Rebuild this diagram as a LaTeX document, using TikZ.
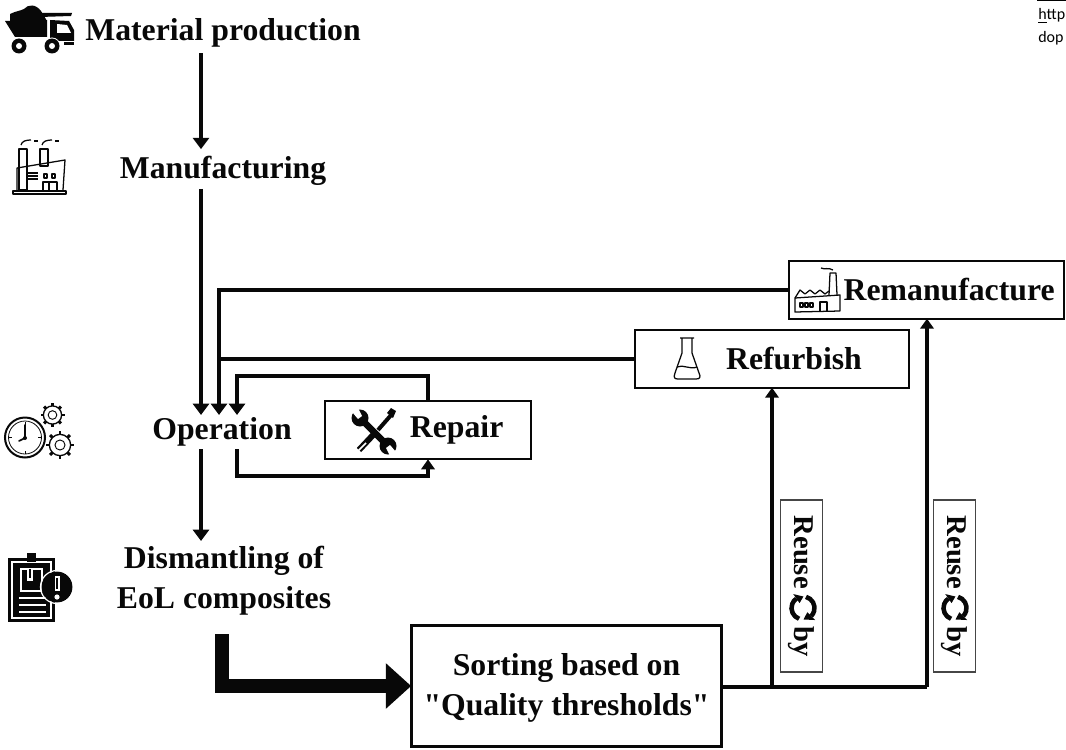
\documentclass[tikz,border=0pt]{standalone}
\usepackage{fontspec}
\setmainfont{Liberation Serif}
\newfontfamily\noteFont{Carlito}
\newfontfamily\quoteFont{Liberation Serif}
\usetikzlibrary{positioning,arrows.meta}
\definecolor{lcInk}{RGB}{8,8,8}
\definecolor{lcFrame}{RGB}{70,70,70}

\tikzset{
  gear/.pic={
    \foreach \a in {0,45,...,315} \draw[lcInk, line width=2.2pt] (\a:0.72) -- (\a:1);
    \draw[lcInk, line width=1pt, fill=white] (0,0) circle (0.76);
    \draw[lcInk, line width=0.7pt] (0,0) circle (0.36);
  },
  recycle/.pic={
    \draw[lcInk, line width=3.4pt] (110:11.5) arc (110:235:11.5);
    \draw[lcInk, line width=3.4pt] (285:11.5) arc (285:405:11.5);
    \fill[lcInk] (235:17) -- (235:6) -- (272:11.5) -- cycle;
    \fill[lcInk] (45:17) -- (45:6) -- (87:11.5) -- cycle;
  }
}

\begin{document}
\begin{tikzpicture}[
    x=0.75pt, y=-0.75pt,
    stage/.style={font=\bfseries\fontsize{23.8}{30}\selectfont, inner sep=0pt, outer sep=0pt, align=center, text=lcInk},
    route box/.style={stage, draw=lcInk, line width=1.7pt, minimum height=43pt},
    reuse box/.style={draw=lcFrame, line width=0.9pt, fill=white, rotate=-90, inner sep=0pt, outer sep=0pt,
      minimum width=129pt, minimum height=32pt, text=lcInk, font=\bfseries\fontsize{21.5}{24}\selectfont},
    flow/.style={draw=lcInk, line width=2.7pt, -{Triangle[length=8.5pt,width=12pt]}},
    small flow/.style={draw=lcInk, line width=2.5pt, -{Triangle[length=7.5pt,width=10pt]}},
    line only/.style={draw=lcInk, line width=2.5pt},
    big flow/.style={draw=lcInk, line width=11pt, -{Triangle[length=19pt,width=33pt]}},
    icon line/.style={draw=lcInk, line width=0.95pt, line join=round},
    note/.style={font=\noteFont\fontsize{12}{14}\selectfont, inner sep=0pt, anchor=base west, text=black}
]
  \useasboundingbox (0,0) rectangle (1066,749);

  \node[stage, minimum height=31pt] (material) at (223,32.5) {Material production};
  \node[stage, minimum height=32pt] (manufacturing) at (223,170.5) {Manufacturing};
  \node[stage, minimum height=25.5pt] (operation) at (222,432) {Operation};
  \node[stage, minimum height=60pt] (dismantling) at (224,581) {Dismantling of\\EoL composites};

  \node[route box, minimum width=206pt] (remanufacture) at (926.5,290) {\hspace*{34pt}Remanufacture};
  \node[route box, minimum width=205pt] (refurbish) at (772,359) {\hspace*{33pt}Refurbish};
  \node[route box, minimum width=154pt, minimum height=44pt] (repair) at (428,430) {\hspace*{43pt}Repair};
  \node[route box, line width=2.25pt, minimum width=233pt, minimum height=91pt] (sorting) at (566.5,686) {\rule{0pt}{19.5pt}Sorting based on\\{\quoteFont"Quality thresholds"}};

  \node[reuse box] (reuseA) at (801.5,586) {\raisebox{1.5pt}{Reuse\hspace{28pt}by}};
  \node[reuse box] (reuseB) at (954.5,586) {\raisebox{1.5pt}{Reuse\hspace{28pt}by}};

  \coordinate (trunk) at (201,0);
  \coordinate (returns) at (219,0);
  \coordinate (loop) at (237,0);
  \coordinate (repairTop) at (237,376);
  \coordinate (repairLow) at (237,476);
  \coordinate (thickStart) at (222,634);
  \coordinate (forkA) at (772,687);
  \coordinate (forkB) at (927,687);

  \draw[flow] (material.south -| trunk) -- (manufacturing.north -| trunk);
  \draw[flow, shorten <=-2.25pt] (manufacturing.south -| trunk) -- (operation.north -| trunk);
  \draw[flow] (operation.south -| trunk) -- (dismantling.north -| trunk);
  \draw[flow] (remanufacture.west) -| (operation.north -| returns);
  \draw[line only] (refurbish.west) -- (refurbish.west -| returns);
  \draw[flow] (repair.north) |- (repairTop) -- (operation.north -| loop);
  \draw[small flow] (operation.south -| loop) -- (repairLow) -| (repair.south);
  \draw[big flow] (thickStart) |- (sorting.west);
  \draw[line only] (sorting.east |- forkA) -- (forkB);
  \draw[small flow] (forkA) -- (refurbish.south -| forkA);
  \draw[small flow] (forkB) -- (remanufacture.south -| forkB);

  \pic at (803,608) {recycle};
  \pic at (955,608) {recycle};

  % truck
  \fill[lcInk] (10,14) .. controls (16,11) and (20,11) .. (24,9) .. controls (28,4) and (36,4) .. (41,11) -- (47,21) -- (10,21) -- cycle;
  \fill[lcInk] (5,21) -- (47,20) -- (47,37) -- (15,37) -- cycle;
  \fill[lcInk] (40,13) -- (72,13) -- (71,16) -- (40,17) -- cycle;
  \fill[lcInk] (50,20) -- (69,21) -- (74,30) -- (74,41) -- (50,41) -- cycle;
  \fill[white] (57,24) -- (67,25) -- (71,33) -- (57,33) -- cycle;
  \fill[lcInk] (64,42) rectangle (74,45);
  \foreach \wx in {19,52} {
    \fill[white] (\wx,46) circle (8.5);
    \fill[lcInk] (\wx,46) circle (7.5);
    \fill[white] (\wx,46) circle (3);
  }

  % factory
  \draw[icon line] (17,190) -- (17,168) -- (65,160) -- (63,190);
  \draw[icon line] (19,149) rectangle (27,190);
  \draw[icon line] (40,149) rectangle (48,166);
  \draw[icon line, fill=white] (13,191) rectangle (66,194);
  \draw[icon line] (21,145) .. controls (22,141) and (26,140) .. (31,140);
  \draw[icon line] (42,145) .. controls (43,141) and (47,140) .. (52,140);
  \draw[icon line] (34,141) -- (38,141) (55,141) -- (59,141);
  \draw[icon line] (28,173) -- (38,173) (28,176) -- (38,176) (28,179) -- (38,179);
  \draw[icon line] (44,174) rectangle (47,178) (52,174) rectangle (55,178);
  \draw[icon line] (43,182) rectangle (49,191) (49,182) rectangle (57,191);

  % clock and gears
  \draw[lcInk, line width=1.5pt] (25,437.5) circle (20);
  \draw[lcInk, line width=0.6pt] (25,437.5) circle (16.5);
  \draw[lcInk, line width=1.2pt, line cap=round] (25,425) -- (25,438) -- (19,441);
  \fill[lcInk] (25,438) circle (2);
  \foreach \a in {0,90,180,270} \draw[lcInk, line width=0.6pt] (25,437.5) ++(\a:16) -- ++(\a:-3);
  \pic[scale=12] at (52.5,415) {gear};
  \pic[scale=14] at (60,445) {gear};

  % clipboard
  \fill[lcInk] (8,558) rectangle (55,622);
  \fill[white] (11,561) rectangle (52,619);
  \fill[lcInk] (13,563) rectangle (50,617);
  \fill[lcInk] (27,553) rectangle (36,562);
  \draw[white, line width=0.9pt, fill=lcInk] (21,569) rectangle (42,591);
  \fill[white] (27,569) rectangle (33,581);
  \fill[lcInk] (29,569) rectangle (31,578);
  \foreach \ly in {598,605,612} \draw[white, line width=0.9pt] (19,\ly) -- (46,\ly);
  \fill[lcInk] (57,587) circle (15.5);
  \draw[white, line width=0.9pt] (57,587) circle (16.5);
  \fill[white] (54.5,576) rectangle (59.5,591);
  \fill[lcInk] (56,578) rectangle (58,589);
  \fill[white] (57,597) circle (2.6);

  % wrench and screwdriver
  \draw[lcInk, line width=5pt] (360,418) -- (388,446);
  \draw[lcInk, line width=4.5pt] (359,450) -- (374,434);
  \draw[white, line width=1.2pt] (358,451) -- (366,443);
  \draw[lcInk, line width=3pt] (378,430) -- (392,414);
  \fill[lcInk] (387,413) -- (391,408) -- (396,411) -- (393,418) -- cycle;
  \fill[lcInk] (360,418) circle (8.5);
  \fill[lcInk] (388,446) circle (8.5);
  \fill[white] (352,412) -- (358,408) -- (362,416) -- (358,419) -- cycle;
  \fill[white] (396,452) -- (390,456) -- (386,448) -- (390,445) -- cycle;

  % flask
  \draw[icon line] (680,338) -- (694,338) (682,338) -- (682,353) -- (675,373)
    .. controls (673,378) and (675,379) .. (678,379) -- (696,379)
    .. controls (700,379) and (701,377) .. (699,373) -- (692,353) -- (692,338);
  \draw[icon line] (677,367) .. controls (683,364) and (690,370) .. (697,367);

  % small factory
  \draw[icon line] (795,312) -- (795,298) -- (840,295) -- (840,311) -- cycle;
  \draw[icon line] (795,298) -- (800,290) -- (805,294) -- (810,290) -- (815,294) -- (820,290) -- (825,294) -- (829,291);
  \draw[icon line] (829,295) -- (830,273) -- (836,273) -- (837,295);
  \draw[icon line] (821,268) .. controls (825,270) and (828,267) .. (833,270);
  \draw[icon line] (800,303) rectangle (803,307) (805,303) rectangle (808,307) (810,303) rectangle (813,307);
  \draw[icon line] (820,312) -- (820,302) -- (827,302) -- (827,312);

  \fill[black] (1037,0) rectangle (1066,1);
  \node[note] (urlA) at (1038,20) {\underline{h}ttp};
  \node[note] (urlB) at (1038,43) {dop};
\end{tikzpicture}
\end{document}
